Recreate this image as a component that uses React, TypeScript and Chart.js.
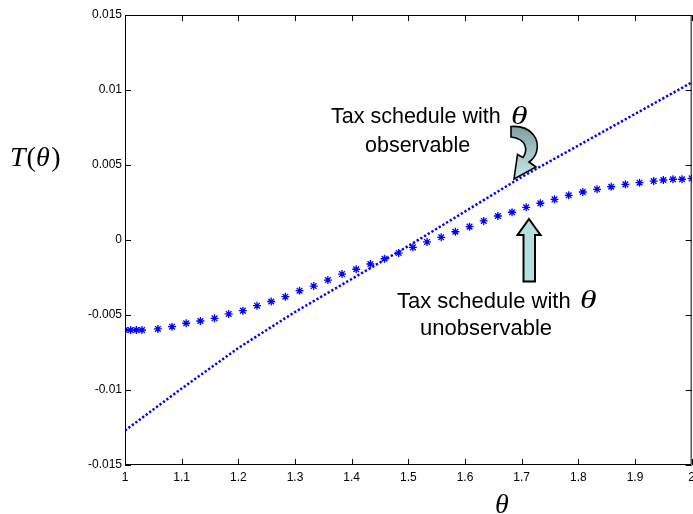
import { useEffect, useRef } from "react";
import { Chart, registerables } from "chart.js";

Chart.register(...registerables);

const xTicks = [1, 1.1, 1.2, 1.3, 1.4, 1.5, 1.6, 1.7, 1.8, 1.9, 2];
const xTickLabels = ["1", "1.1", "1.2", "1.3", "1.4", "1.5", "1.6", "1.7", "1.8", "1.9", "2"];
const yTicks = [-0.015, -0.01, -0.005, 0, 0.005, 0.01, 0.015];
const yTickLabels = ["-0.015", "-0.01", "-0.005", "0", "0.005", "0.01", "0.015"];

// Tax schedule with theta observable (dotted line)
const observableTheta = [1, 1.1, 1.2, 1.3, 1.4, 1.5, 1.6, 1.7, 1.8, 1.9, 2];
const observableTax = [-0.0127, -0.0099, -0.0072, -0.0048, -0.0026, -0.0004, 0.0019, 0.0042, 0.0063, 0.0084, 0.0105];

// Tax schedule with theta unobservable (star markers)
const unobservableTheta = [
  1, 1.01, 1.02, 1.03, 1.058, 1.083, 1.108, 1.133, 1.158, 1.183, 1.208, 1.233, 1.258,
  1.283, 1.308, 1.333, 1.358, 1.383, 1.408, 1.433, 1.458, 1.483, 1.508, 1.533, 1.558,
  1.583, 1.608, 1.633, 1.658, 1.683, 1.708, 1.733, 1.758, 1.783, 1.808, 1.833, 1.858,
  1.883, 1.908, 1.933, 1.95, 1.967, 1.983, 2,
];
const unobservableTax = [
  -0.006, -0.006, -0.006, -0.006, -0.00593, -0.00578, -0.00555, -0.0054, -0.00522, -0.00493,
  -0.00471, -0.00438, -0.0041, -0.00378, -0.00338, -0.00307, -0.00267, -0.00227, -0.00195,
  -0.0016, -0.00125, -0.00087, -0.00049, -0.00013, 0.00018, 0.00055, 0.00089, 0.00127,
  0.0016, 0.00185, 0.00218, 0.00245, 0.00271, 0.00298, 0.0032, 0.00338, 0.00355, 0.00371,
  0.00382, 0.00393, 0.004, 0.00405, 0.00405, 0.00411,
];

const BLUE = "#0000ff";
const SANS = "'Liberation Sans', Arial, Helvetica, sans-serif";
const SERIF = "'Liberation Serif', 'Times New Roman', serif";

const framePlugin = {
  id: "frame",
  afterDatasetsDraw(chart: any) {
    const { ctx, chartArea } = chart;
    const { left, right, top, bottom } = chartArea;
    const xs = chart.scales.x;
    const ys = chart.scales.y;
    ctx.save();
    ctx.strokeStyle = "#000";
    ctx.lineWidth = 1;
    ctx.beginPath();
    ctx.rect(left + 0.5, top + 0.5, right - left - 1, bottom - top - 1);
    ctx.stroke();
    const tl = 6;
    ctx.beginPath();
    xTicks.forEach((v) => {
      const px = Math.round(xs.getPixelForValue(v)) + 0.5;
      ctx.moveTo(px, bottom);
      ctx.lineTo(px, bottom - tl);
      ctx.moveTo(px, top);
      ctx.lineTo(px, top + tl);
    });
    yTicks.forEach((v) => {
      const py = Math.round(ys.getPixelForValue(v)) + 0.5;
      ctx.moveTo(left, py);
      ctx.lineTo(left + tl, py);
      ctx.moveTo(right, py);
      ctx.lineTo(right - tl, py);
    });
    ctx.stroke();
    ctx.restore();
  },
};

function drawCurvedArrow(ctx: CanvasRenderingContext2D) {
  ctx.save();
  ctx.beginPath();
  ctx.moveTo(511, 126.5);
  ctx.bezierCurveTo(532, 125, 540, 140, 536.5, 152);
  ctx.bezierCurveTo(535, 157, 532, 160, 529, 162);
  ctx.lineTo(536, 167);
  ctx.lineTo(514, 179);
  ctx.lineTo(517.5, 154.5);
  ctx.lineTo(523, 157.5);
  ctx.bezierCurveTo(528, 150, 527, 139, 511, 137);
  ctx.closePath();
  const g = ctx.createLinearGradient(0, 127, 0, 178);
  g.addColorStop(0, "#82a0a2");
  g.addColorStop(1, "#c6e8e8");
  ctx.fillStyle = g;
  ctx.fill();
  ctx.strokeStyle = "#000";
  ctx.lineWidth = 1.6;
  ctx.lineJoin = "miter";
  ctx.stroke();
  ctx.restore();
}

function drawUpArrow(ctx: CanvasRenderingContext2D) {
  ctx.save();
  ctx.beginPath();
  ctx.moveTo(529, 219);
  ctx.lineTo(540.5, 235);
  ctx.lineTo(535, 235);
  ctx.lineTo(535, 281.5);
  ctx.lineTo(523.5, 281.5);
  ctx.lineTo(523.5, 235);
  ctx.lineTo(517.5, 235);
  ctx.closePath();
  ctx.fillStyle = "#b5dede";
  ctx.fill();
  ctx.strokeStyle = "#000";
  ctx.lineWidth = 2;
  ctx.stroke();
  ctx.restore();
}

function drawWideTheta(ctx: CanvasRenderingContext2D, x: number, y: number, size: number) {
  ctx.save();
  ctx.font = `italic ${size}px ${SERIF}`;
  ctx.textAlign = "left";
  ctx.translate(x, y);
  ctx.scale(1.35, 1);
  ctx.fillText("θ", 0, 0);
  ctx.restore();
}

const annotationPlugin = {
  id: "annotations",
  afterDraw(chart: any) {
    const ctx: CanvasRenderingContext2D = chart.ctx;
    ctx.save();
    ctx.fillStyle = "#000";
    ctx.textBaseline = "alphabetic";
    ctx.textAlign = "left";

    // observable label
    ctx.font = `21.5px ${SANS}`;
    ctx.fillText("Tax schedule with", 331, 123);
    ctx.fillText("observable", 365, 152);
    drawWideTheta(ctx, 511, 124, 25);

    // unobservable label
    ctx.font = `22px ${SANS}`;
    ctx.fillText("Tax schedule with", 397, 308);
    ctx.fillText("unobservable", 420, 335);
    drawWideTheta(ctx, 580, 308, 25);

    // axis labels
    ctx.font = `italic 28px ${SERIF}`;
    let x = 10;
    const yb = 166;
    ctx.fillText("T", x, yb);
    x += ctx.measureText("T").width + 1;
    ctx.font = `28px ${SERIF}`;
    ctx.fillText("(", x, yb);
    x += ctx.measureText("(").width;
    ctx.font = `italic 28px ${SERIF}`;
    ctx.fillText("θ", x, yb);
    x += ctx.measureText("θ").width + 1.5;
    ctx.font = `28px ${SERIF}`;
    ctx.fillText(")", x, yb);

    ctx.font = `italic 28px ${SERIF}`;
    ctx.textAlign = "center";
    ctx.fillText("θ", 502, 513);

    drawCurvedArrow(ctx);
    drawUpArrow(ctx);
    ctx.restore();
  },
};

export default function App() {
  const ref = useRef<HTMLCanvasElement | null>(null);

  useEffect(() => {
    if (!ref.current) return;
    Chart.defaults.font.family = SANS;
    const chart = new Chart(ref.current, {
      type: "scatter",
      data: {
        datasets: [
          {
            label: "Tax schedule with θ observable",
            data: observableTheta.map((t, i) => ({ x: t, y: observableTax[i] })),
            showLine: true,
            borderColor: BLUE,
            backgroundColor: BLUE,
            borderWidth: 2.5,
            borderDash: [2.3, 2.0],
            borderCapStyle: "butt",
            pointRadius: 0,
            tension: 0,
          },
          {
            label: "Tax schedule with θ unobservable",
            data: unobservableTheta.map((t, i) => ({ x: t, y: unobservableTax[i] })),
            showLine: false,
            borderColor: BLUE,
            backgroundColor: BLUE,
            pointStyle: "star",
            pointRadius: 4,
            pointBorderWidth: 1.3,
          },
        ],
      },
      options: {
        responsive: false,
        animation: false,
        devicePixelRatio: 1,
        layout: { padding: { top: 15, right: 5, left: 0, bottom: 0 } },
        plugins: { legend: { display: false }, tooltip: { enabled: false } },
        scales: {
          x: {
            type: "linear",
            min: 1,
            max: 2,
            grid: { display: false, drawTicks: false },
            border: { display: false },
            afterBuildTicks: (scale: any) => {
              scale.ticks = xTicks.map((value) => ({ value }));
            },
            afterFit: (scale: any) => {
              scale.height = 49;
            },
            ticks: {
              autoSkip: false,
              maxRotation: 0,
              padding: 5,
              color: "#000",
              font: { size: 12, family: SANS },
              callback: (v: any) => {
                const i = xTicks.findIndex((t) => Math.abs(t - Number(v)) < 1e-9);
                return i >= 0 ? xTickLabels[i] : "";
              },
            },
          },
          y: {
            type: "linear",
            min: -0.015,
            max: 0.015,
            grid: { display: false, drawTicks: false },
            border: { display: false },
            afterBuildTicks: (scale: any) => {
              scale.ticks = yTicks.map((value) => ({ value }));
            },
            afterFit: (scale: any) => {
              scale.width = 125;
            },
            ticks: {
              autoSkip: false,
              padding: 3,
              color: "#000",
              font: { size: 12, family: SANS },
              callback: (v: any) => {
                const i = yTicks.findIndex((t) => Math.abs(t - Number(v)) < 1e-9);
                return i >= 0 ? yTickLabels[i] : "";
              },
            },
          },
        },
      },
      plugins: [framePlugin, annotationPlugin],
    } as any);
    return () => chart.destroy();
  }, []);

  return (
    <div
      style={{
        position: "fixed",
        left: 0,
        top: 0,
        width: 693,
        height: 514,
        overflow: "hidden",
        background: "#fff",
      }}
    >
      <canvas ref={ref} width={700} height={514} style={{ display: "block", width: 700, height: 514 }} />
    </div>
  );
}
